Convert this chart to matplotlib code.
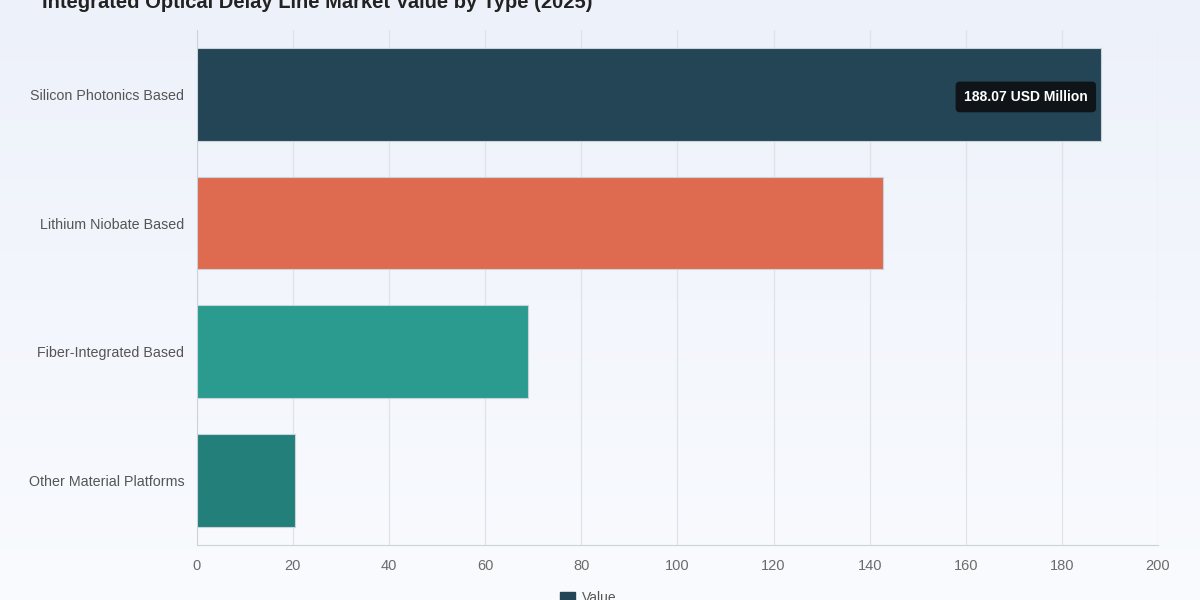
import numpy as np
import matplotlib as mpl
import matplotlib.pyplot as plt
from matplotlib.colors import LinearSegmentedColormap

mpl.rcParams.update({
    "font.family": ["Liberation Sans", "DejaVu Sans"],
    "font.size": 10,
})

# 数据
categories = ["Silicon Photonics Based", "Lithium Niobate Based",
              "Fiber-Integrated Based", "Other Material Platforms"]
values = [188.07, 142.8, 68.9, 20.4]
colors = ["#234555", "#de6b4f", "#2a9b8e", "#237f7a"]
title = "Integrated Optical Delay Line Market Value by Type (2025)"

fig = plt.figure(figsize=(12, 6), dpi=100)

# 背景渐变
bg = fig.add_axes([0, 0, 1, 1], zorder=-10)
grad = np.linspace(0, 1, 256).reshape(-1, 1)
cmap = LinearSegmentedColormap.from_list("bg", ["#edf1fa", "#f9fbfe"])
bg.imshow(grad, aspect="auto", cmap=cmap, extent=[0, 1, 0, 1])
bg.axis("off")

ax = fig.add_axes([0.164, 0.092, 0.801, 0.858])
ax.patch.set_alpha(0)

y = np.arange(len(categories))
ax.barh(y, values, height=0.72, color=colors, edgecolor="#c9d3da",
        linewidth=0.8, zorder=3)

ax.set_xlim(0, 200)
ax.set_ylim(3.5, -0.5)
ax.set_xticks(range(0, 201, 20))
ax.set_yticks(y)
ax.set_yticklabels(categories)
ax.tick_params(axis="x", colors="#6b6b6b", labelsize=10.5, length=0, pad=10)
ax.tick_params(axis="y", colors="#555555", labelsize=10.3, length=0, pad=9)
ax.grid(axis="x", color="#dfe3e8", linewidth=0.9, zorder=0)
for s in ["top", "right"]:
    ax.spines[s].set_visible(False)
for s in ["left", "bottom"]:
    ax.spines[s].set_color("#cfd3d8")

# 提示框
ax.text(172.5, 0.02, f"{values[0]:.2f} USD Million", color="white",
        fontsize=10, fontweight="bold", ha="center", va="center", zorder=5,
        bbox=dict(boxstyle="round,pad=0.6,rounding_size=0.3",
                  fc="#0e1418", ec="none"))

fig.text(0.035, 0.995, title, fontsize=14.5, fontweight="bold",
         color="#222222", ha="left", va="center")

fig.legend([plt.Rectangle((0, 0), 1, 1, color=colors[0])], ["Value"],
           loc="center", bbox_to_anchor=(0.49, 0.003), frameon=False,
           fontsize=10, labelcolor="#555555", handlelength=1.1,
           handleheight=0.9, handletextpad=0.5)

fig.savefig("out.png", dpi=100)
